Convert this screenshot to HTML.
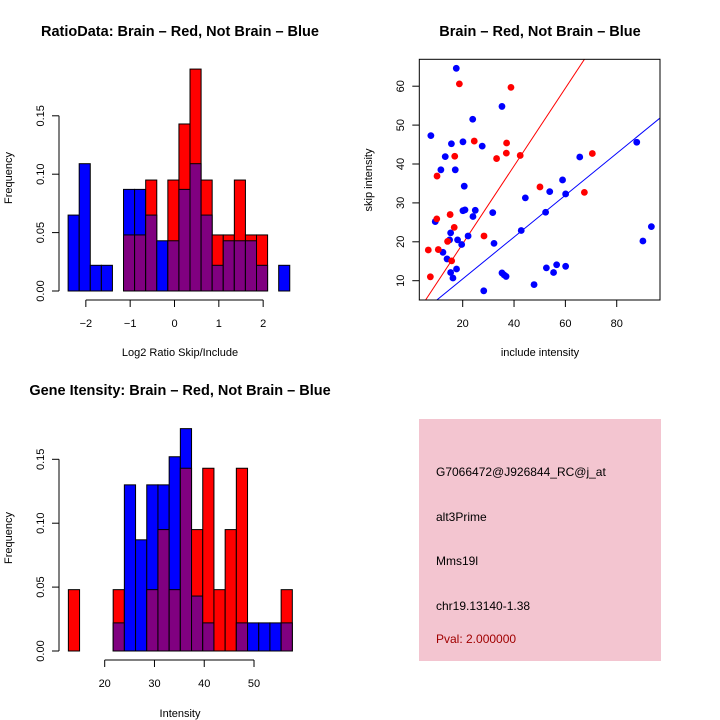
<!DOCTYPE html>
<html><head><meta charset="utf-8"><style>
body{margin:0;background:#fff}
svg{display:block;font-family:"Liberation Sans",sans-serif}
</style></head><body>
<svg id="c" width="720" height="720" viewBox="0 0 720 720" xmlns="http://www.w3.org/2000/svg">
<g id="g1"></g>
<g id="g2"></g>
<g id="g3"></g>
<g>
<rect x="419" y="419" width="242" height="242" fill="#f3c5d0"/>
<text x="436" y="476" font-size="12">G7066472@J926844_RC@j_at</text>
<text x="436" y="521" font-size="12">alt3Prime</text>
<text x="436" y="565" font-size="12">Mms19l</text>
<text x="436" y="610" font-size="12">chr19.13140-1.38</text>
<text x="436" y="643" font-size="12" fill="#a00000">Pval: 2.000000</text>
</g>
</svg>
<script>
// Ratio histogram data
const ratioBinStart = -2.4;
const ratioBinWidth = 0.25;
const ratioBlue = [0.065,0.109,0.022,0.022,0,0.087,0.087,0.065,0.043,0.043,0.087,0.109,0.065,0.022,0.043,0.043,0.043,0.022,0,0.022];
const ratioRed  = [0,0,0,0,0,0.048,0.048,0.095,0,0.095,0.143,0.190,0.095,0.048,0.048,0.095,0.048,0.048,0,0];
const ratioXTicks = [-2,-1,0,1,2];
const freqTicks = [0,0.05,0.10,0.15];
const freqTickLabels = ["0.00","0.05","0.10","0.15"];
// Intensity histogram data
const intBinStart = 12.7;
const intBinWidth = 2.25;
const intBlue = [0,0,0,0,0.022,0.130,0.087,0.130,0.130,0.152,0.174,0.043,0.022,0,0,0.022,0.022,0.022,0.022,0.022];
const intRed  = [0.048,0,0,0,0.048,0,0,0.048,0.095,0.048,0.143,0.095,0.143,0.048,0.095,0.143,0,0,0,0.048];
const intXTicks = [20,30,40,50];
// Scatter data
const blueInclude = [17.5,7.6,15.6,20.1,23.9,27.6,35.3,13.2,11.5,17.1,20.6,20.1,20.9,24.9,24.0,31.7,9.3,15.3,14.9,18.0,19.6,22.1,32.2,12.3,13.9,15.3,16.2,17.6,28.2,35.3,36.1,36.9,42.8,44.4,47.8,52.3,53.9,52.6,55.4,56.6,58.9,60.1,60.1,65.6,87.8,90.2,93.5];
const blueSkip    = [64.6,47.3,45.2,45.7,51.5,44.6,54.8,41.9,38.5,38.5,34.3,28.0,28.2,28.1,26.5,27.5,25.2,22.3,20.5,20.5,19.3,21.5,19.6,17.3,15.6,12.1,10.7,13.0,7.4,12.0,11.5,11.1,22.9,31.3,9.0,27.6,32.9,13.3,12.1,14.1,35.9,32.3,13.7,41.8,45.6,20.2,23.9];
const redInclude  = [18.7,38.8,24.5,37.1,16.9,37.0,33.2,42.4,10.0,50.1,70.5,67.4,9.9,15.1,16.7,14.1,28.3,6.6,10.5,15.7,7.4];
const redSkip     = [60.6,59.7,45.9,45.4,42.0,42.8,41.4,42.2,36.9,34.1,42.7,32.7,25.9,27.0,23.7,20.1,21.5,17.9,18.0,15.1,11.0];
const redFit  = [1.0,-0.5];   // slope, intercept
const blueFit = [0.538,-0.3];
const scatterXTicks = [20,40,60,80];
const scatterYTicks = [10,20,30,40,50,60];

const NS="http://www.w3.org/2000/svg";
function mk(parent,tag,attrs){const e=document.createElementNS(NS,tag);for(const k in attrs)e.setAttribute(k,attrs[k]);parent.appendChild(e);return e;}
function txt(parent,x,y,s,size,extra){const t=mk(parent,'text',Object.assign({x:x,y:y,'font-size':size,'text-anchor':'middle'},extra||{}));t.textContent=s;return t;}

function hist(gid,binStart,binWidth,blue,red,xTicks,xScale,y0,yScale,title,titleY,xlab,xAxisY,xlabY,ylabY){
  const g=document.getElementById(gid);
  const x=v=>xScale[0]+(v-xScale[1])*xScale[2];
  const y=v=>y0-v*yScale;
  for(let i=0;i<blue.length;i++){
    const b=blue[i],r=red[i];
    const xl=x(binStart+i*binWidth),xr=x(binStart+(i+1)*binWidth);
    const mx=Math.max(b,r),mn=Math.min(b,r);
    if(mx>0){
      const bar=mk(g,'rect',{x:xl,y:y(mx),width:xr-xl,height:mx*yScale,fill:b>=r?'#0000ff':'#ff0000',stroke:'#000','stroke-width':1});
      
      
    }
    if(mn>0){
      const bar=mk(g,'rect',{x:xl,y:y(mn),width:xr-xl,height:mn*yScale,fill:'#800080',stroke:'#000','stroke-width':1});
      
      
    }
  }
  const ya=mk(g,'g',{});
  
  
  mk(ya,'line',{x1:59,x2:59,y1:y(0),y2:y(0.15),stroke:'#000'});
  freqTicks.forEach((v,i)=>{
    mk(ya,'line',{x1:52,x2:59,y1:y(v),y2:y(v),stroke:'#000'});
    txt(ya,0,0,freqTickLabels[i],11,{transform:`translate(44,${y(v)}) rotate(-90)`});
  });
  const yt=txt(g,0,0,'Frequency',11,{transform:`translate(12,${ylabY}) rotate(-90)`});
  
  
  const xa=mk(g,'g',{});
  
  
  mk(xa,'line',{x1:x(xTicks[0]),x2:x(xTicks[xTicks.length-1]),y1:xAxisY,y2:xAxisY,stroke:'#000'});
  xTicks.forEach(v=>{
    mk(xa,'line',{x1:x(v),x2:x(v),y1:xAxisY,y2:xAxisY+7,stroke:'#000'});
    txt(xa,x(v),xAxisY+27,String(v).replace('-','\u2212'),11);
  });
  const xt=txt(g,180,xlabY,xlab,11);
  
  
  const tt=txt(g,180,titleY,title,14.5,{'font-weight':'bold'});
  
  
}
hist('g1',ratioBinStart,ratioBinWidth,ratioBlue,ratioRed,ratioXTicks,[174.5,0,44.33],291,1168,'RatioData: Brain \u2013 Red, Not Brain \u2013 Blue',36,'Log2 Ratio Skip/Include',300,356,178);
hist('g3',intBinStart,intBinWidth,intBlue,intRed,intXTicks,[104.7,20,4.977],651,1278,'Gene Itensity: Brain \u2013 Red, Not Brain \u2013 Blue',395,'Intensity',660,717,538);

(function(){
  const g=document.getElementById('g2');
  const L=419.3,R=660,T=59.3,B=300;
  const x=v=>462.7+(v-20)*2.567;
  const y=v=>280.7-(v-10)*3.89;
  const cp=mk(g,'clipPath',{id:'sc'});mk(cp,'rect',{x:L,y:T,width:R-L,height:B-T});
  [[redFit,'#ff0000','red-fit-line'],[blueFit,'#0000ff','blue-fit-line']].forEach(([f,c,n])=>{
    const xa=0,xb=100;
    const l=mk(g,'line',{x1:x(xa),y1:y(f[0]*xa+f[1]),x2:x(xb),y2:y(f[0]*xb+f[1]),stroke:c,'stroke-width':1,'clip-path':'url(#sc)'});
    
    
  });
  blueInclude.forEach((v,i)=>{
    const p=mk(g,'circle',{cx:x(v),cy:y(blueSkip[i]),r:3.4,fill:'#0000ff'});
    
    
  });
  redInclude.forEach((v,i)=>{
    const p=mk(g,'circle',{cx:x(v),cy:y(redSkip[i]),r:3.4,fill:'#ff0000'});
    
    
  });
  const box=mk(g,'rect',{x:L,y:T,width:R-L,height:B-T,fill:'none',stroke:'#000'});
  
  
  const xa=mk(g,'g',{});
  
  
  scatterXTicks.forEach(v=>{mk(xa,'line',{x1:x(v),x2:x(v),y1:B,y2:B+7,stroke:'#000'});txt(xa,x(v),B+27,String(v),11);});
  const ya=mk(g,'g',{});
  
  
  scatterYTicks.forEach(v=>{mk(ya,'line',{x1:L-7,x2:L,y1:y(v),y2:y(v),stroke:'#000'});txt(ya,0,0,String(v),11,{transform:`translate(404,${y(v)}) rotate(-90)`});});
  const xt=txt(g,540,356,'include intensity',11);
  
  
  const yt=txt(g,0,0,'skip intensity',11,{transform:'translate(372,180) rotate(-90)'});
  
  
  const tt=txt(g,540,36,'Brain \u2013 Red, Not Brain \u2013 Blue',14.5,{'font-weight':'bold'});
  
  
})();
</script>
</body></html>
